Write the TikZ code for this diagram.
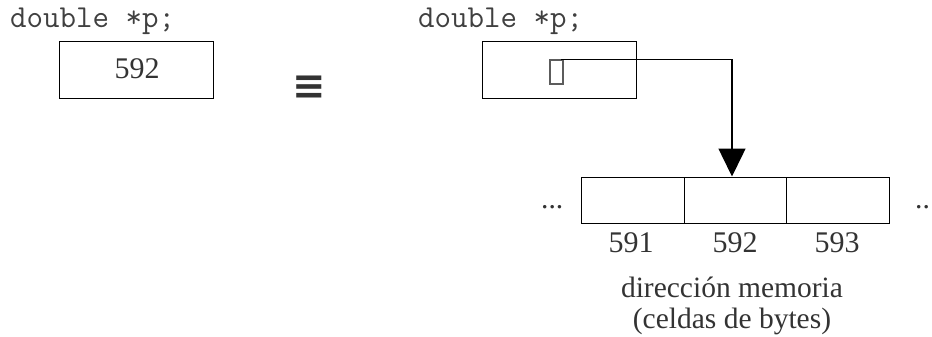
\documentclass[tikz,border=0pt]{standalone}
\usepackage{fontspec}
\setmainfont{Liberation Serif}
\newfontfamily\symfont{DejaVu Sans}
\usetikzlibrary{arrows.meta}
\definecolor{txtgray}{HTML}{404040}
\definecolor{numgray}{HTML}{333333}
\tikzset{
  code/.style={anchor=base west, inner sep=0, text=txtgray, font=\ttfamily\fontsize{32}{34}\selectfont},
  varbox/.style={draw, line width=1.3pt, minimum width=154pt, minimum height=57pt, inner sep=0},
  cell/.style={draw, line width=1pt, minimum width=102.5pt, minimum height=46pt, inner sep=0},
  num/.style={inner sep=0, text=numgray, font=\fontsize{30}{32}\selectfont},
  lbl/.style={inner sep=0, anchor=base, text=numgray, font=\fontsize{29.5}{31}\selectfont},
  ptrbox/.style={draw=numgray!80, line width=1.3pt, minimum width=13pt, minimum height=24pt, inner sep=0},
  link/.style={line width=1.5pt, -{Triangle[width=27pt,length=28pt]}}
}
\begin{document}
\begin{tikzpicture}[x=1pt,y=-1pt]
\useasboundingbox (0,0) rectangle (932,337);
% left
\node[code] (declL) at (10,28) {double *p;};
\node[varbox] (boxL) at (136.5,70) {};
\node[num] (valL) at (137,69) {592};
% equivalence
\node[inner sep=0, text=numgray, font=\symfont\bfseries\fontsize{40}{40}\selectfont] (eq) at (309.5,87.5) {≡};
% right
\node[code] (declR) at (418,28) {double *p;};
\node[varbox] (boxR) at (559.5,70) {};
\node[ptrbox] (ptr) at (556.5,72) {};
% memory cells
\node[cell] (c1) at (633,200) {};
\node[cell] (c2) at (735.5,200) {};
\node[cell] (c3) at (838,200) {};
\node[lbl, anchor=base west] (dl) at (541,208) {...};
\node[lbl, anchor=base west] (dr) at (915,208) {..};
\node[num] (n1) at (631,243) {591};
\node[num] (n2) at (735,243) {592};
\node[num] (n3) at (837,243) {593};
\node[lbl] (t1) at (732,297) {dirección memoria};
\node[lbl] (t2) at (732,328) {(celdas de bytes)};
% pointer connector
\draw[link] ([xshift=-3pt]ptr.north east) -| ([xshift=-3.5pt]c2.north);
\end{tikzpicture}
\end{document}
